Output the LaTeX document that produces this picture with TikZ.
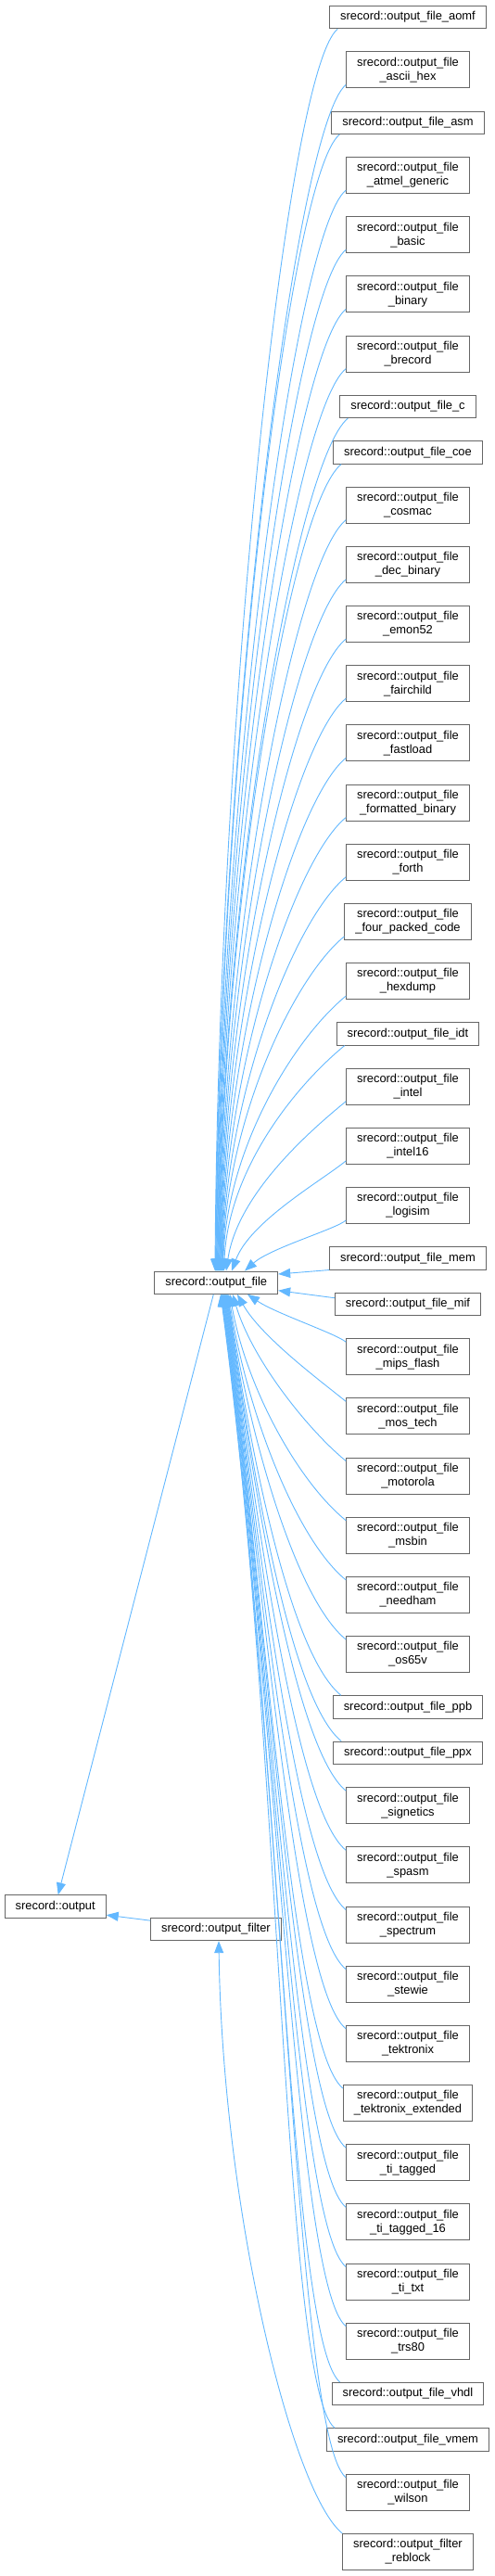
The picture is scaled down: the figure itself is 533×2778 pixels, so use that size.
\documentclass[tikz,border=0pt]{standalone}
\usepackage{fontspec}
\newfontfamily\lsans{Liberation Sans}
\usetikzlibrary{arrows.meta,calc}
\definecolor{nodeborder}{HTML}{666666}
\definecolor{edgecol}{HTML}{63B8FF}
\tikzset{
  cls/.style={draw=nodeborder, fill=white, line width=1pt, inner xsep=11.5pt, inner ysep=0pt,
    align=center, font=\lsans\fontsize{12.9pt}{15pt}\selectfont, text=black},
  sgl/.style={cls, minimum height=24.3pt},
  dbl/.style={cls, minimum height=39pt},
  conn/.style={draw=edgecol, line width=0.9pt, -{Triangle[length=13pt,width=10pt]}},
}
% edge from a child above output_file
\newcommand\upedge[2]{%
  \draw[conn] let \p1=(#1), \p2=(#2,0 |- of.north), \n1={\y1-\y2}, \n2={min(1,\n1/250)} in
    (\p1) .. controls ({\x1-55pt*\n2},{\y1-45pt*\n2}) and ({\x2+4pt+30pt*(1-\n2)},{\y2+0.45*\n1}) .. (\p2);}
% edge from a child below output_file
\newcommand\downedge[2]{%
  \draw[conn] let \p1=(#1), \p2=(#2,0 |- of.south), \n1={\y2-\y1}, \n2={min(1,\n1/250)} in
    (\p1) .. controls ({\x1-55pt*\n2},{\y1+45pt*\n2}) and ({\x2+4pt+30pt*(1-\n2)+0.05*\n1},{\y2-0.4*\n1}) .. (\p2);}
\newcommand\ups[2]{\upedge{$(#1.south west)+(9,0)$}{#2}}
\newcommand\upd[2]{\upedge{$(#1.south west)+(0,-4)$}{#2}}
\newcommand\dns[2]{\downedge{$(#1.north west)+(9,0)$}{#2}}
\newcommand\dnd[2]{\downedge{$(#1.north west)+(0,4)$}{#2}}
\begin{document}
\begin{tikzpicture}[x=1pt,y=-1pt]
\useasboundingbox (0,0) rectangle (533,2778);
% parents
\node[sgl] (of) at (233.3,1383.2) {srecord::output\_file};
\node[sgl] (output) at (59.7,2056) {srecord::output};
\node[sgl] (ofl) at (233,2080.5) {srecord::output\_filter};
% children
\node[sgl] (aomf) at (440,18.65) {srecord::output\_file\_aomf};
\node[dbl] (asciihex) at (440,75.47) {srecord::output\_file\\\_ascii\_hex};
\node[sgl] (asm) at (440,132.29) {srecord::output\_file\_asm};
\node[dbl] (atmel) at (440,189.11) {srecord::output\_file\\\_atmel\_generic};
\node[dbl] (basic) at (440,253.28) {srecord::output\_file\\\_basic};
\node[dbl] (binary) at (440,317.45) {srecord::output\_file\\\_binary};
\node[dbl] (brecord) at (440,381.62) {srecord::output\_file\\\_brecord};
\node[sgl] (fc) at (440,438.44) {srecord::output\_file\_c};
\node[sgl] (coe) at (440,487.91) {srecord::output\_file\_coe};
\node[dbl] (cosmac) at (440,544.73) {srecord::output\_file\\\_cosmac};
\node[dbl] (decbin) at (440,608.90) {srecord::output\_file\\\_dec\_binary};
\node[dbl] (emon) at (440,673.07) {srecord::output\_file\\\_emon52};
\node[dbl] (fairchild) at (440,737.24) {srecord::output\_file\\\_fairchild};
\node[dbl] (fastload) at (440,801.41) {srecord::output\_file\\\_fastload};
\node[dbl] (fmtbin) at (440,865.58) {srecord::output\_file\\\_formatted\_binary};
\node[dbl] (forth) at (440,929.75) {srecord::output\_file\\\_forth};
\node[dbl] (fourpc) at (440,993.92) {srecord::output\_file\\\_four\_packed\_code};
\node[dbl] (hexdump) at (440,1058.09) {srecord::output\_file\\\_hexdump};
\node[sgl] (idt) at (440,1114.91) {srecord::output\_file\_idt};
\node[dbl] (intel) at (440,1171.73) {srecord::output\_file\\\_intel};
\node[dbl] (intelsix) at (440,1235.90) {srecord::output\_file\\\_intel16};
\node[dbl] (logisim) at (440,1300.07) {srecord::output\_file\\\_logisim};
\node[sgl] (mem) at (440,1356.89) {srecord::output\_file\_mem};
\node[sgl] (mif) at (440,1406.36) {srecord::output\_file\_mif};
\node[dbl] (mips) at (440,1463.18) {srecord::output\_file\\\_mips\_flash};
\node[dbl] (mostech) at (440,1527.35) {srecord::output\_file\\\_mos\_tech};
\node[dbl] (motorola) at (440,1591.52) {srecord::output\_file\\\_motorola};
\node[dbl] (msbin) at (440,1655.69) {srecord::output\_file\\\_msbin};
\node[dbl] (needham) at (440,1719.86) {srecord::output\_file\\\_needham};
\node[dbl] (osv) at (440,1784.03) {srecord::output\_file\\\_os65v};
\node[sgl] (ppb) at (440,1840.85) {srecord::output\_file\_ppb};
\node[sgl] (ppx) at (440,1890.32) {srecord::output\_file\_ppx};
\node[dbl] (signetics) at (440,1947.14) {srecord::output\_file\\\_signetics};
\node[dbl] (spasm) at (440,2011.31) {srecord::output\_file\\\_spasm};
\node[dbl] (spectrum) at (440,2075.48) {srecord::output\_file\\\_spectrum};
\node[dbl] (stewie) at (440,2139.65) {srecord::output\_file\\\_stewie};
\node[dbl] (tek) at (440,2203.82) {srecord::output\_file\\\_tektronix};
\node[dbl] (tekext) at (440,2267.99) {srecord::output\_file\\\_tektronix\_extended};
\node[dbl] (titag) at (440,2332.16) {srecord::output\_file\\\_ti\_tagged};
\node[dbl] (titagsix) at (440,2396.33) {srecord::output\_file\\\_ti\_tagged\_16};
\node[dbl] (titxt) at (440,2460.50) {srecord::output\_file\\\_ti\_txt};
\node[dbl] (trs) at (440,2524.67) {srecord::output\_file\\\_trs80};
\node[sgl] (vhdl) at (440,2581.49) {srecord::output\_file\_vhdl};
\node[sgl] (vmem) at (440,2630.96) {srecord::output\_file\_vmem};
\node[dbl] (wilson) at (440,2687.78) {srecord::output\_file\\\_wilson};
\node[dbl] (reblock) at (440,2751.95) {srecord::output\_filter\\\_reblock};
% edges to output_file from above
\ups{aomf}{232}
\upd{asciihex}{232.5}
\ups{asm}{233}
\upd{atmel}{233.5}
\upd{basic}{234}
\upd{binary}{234.5}
\upd{brecord}{235}
\ups{fc}{235.5}
\ups{coe}{236}
\upd{cosmac}{236.5}
\upd{decbin}{237}
\upd{emon}{237.5}
\upd{fairchild}{238}
\upd{fastload}{238.5}
\upd{fmtbin}{239}
\upd{forth}{239.5}
\upd{fourpc}{240}
\upd{hexdump}{240.5}
\ups{idt}{241.5}
\upd{intel}{244}
\upd{intelsix}{250}
\upd{logisim}{264}
% side edges
\draw[conn] (mem.south west) -- (of.east |- 0,1374);
\draw[conn] ($(mif.north west)+(0,6)$) -- (of.east |- 0,1391.7);
% edges to output_file from below
\dnd{mips}{267}
\dnd{mostech}{256}
\dnd{motorola}{251}
\dnd{msbin}{248}
\dnd{needham}{246.5}
\dnd{osv}{245.5}
\dns{ppb}{245}
\dns{ppx}{244.5}
\dnd{signetics}{244}
\dnd{spasm}{243.5}
\dnd{spectrum}{243}
\dnd{stewie}{242.5}
\dnd{tek}{242}
\dnd{tekext}{241.5}
\dnd{titag}{241}
\dnd{titagsix}{240.5}
\dnd{titxt}{240}
\dnd{trs}{239.5}
\dns{vhdl}{239}
\dns{vmem}{238.5}
\dnd{wilson}{238}
% other edges
\draw[conn] ($(of.south)+(-3,0)$) -- ($(output.north)+(3,0)$);
\draw[conn] ($(ofl.north west)+(0,3.3)$) -- ($(output.south east)+(0,-3.5)$);
\draw[conn] let \p1=(reblock.north west), \p2=(236,0 |- ofl.south), \n1={\y2-\y1} in
  (\p1) .. controls ({\x1-55pt},{\y1+45pt}) and ({\x2+4pt},{\y2-0.45*\n1}) .. (\p2);
\end{tikzpicture}
\end{document}
